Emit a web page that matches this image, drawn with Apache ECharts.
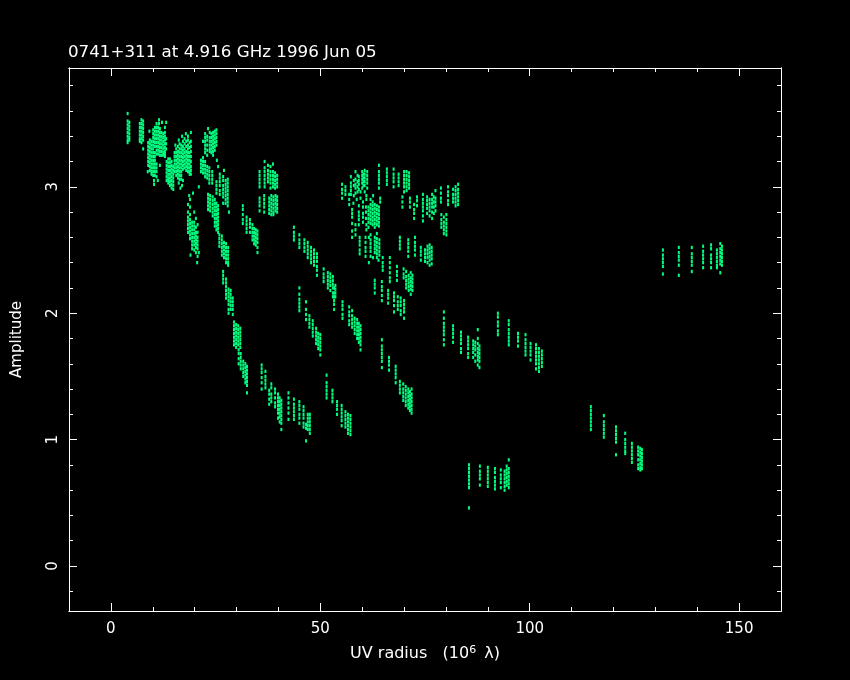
<!DOCTYPE html>
<html><head><meta charset="utf-8">
<style>html,body{margin:0;padding:0;background:#000}#c{width:850px;height:680px}</style>
<script src="https://cdn.jsdelivr.net/npm/echarts@6/dist/echarts.min.js"></script>
</head><body><div id="c"></div>
<script>
const titleText = '0741+311 at 4.916 GHz 1996 Jun 05';
const xMajorTicks = [0, 50, 100, 150];
const xMinorTicks = [-10, 10, 20, 30, 40, 60, 70, 80, 90, 110, 120, 130, 140, 160];
const yMajorTicks = [0, 1, 2, 3];
const yMinorTicks = [-0.2, 0.2, 0.4, 0.6, 0.8, 1.2, 1.4, 1.6, 1.8, 2.2, 2.4, 2.6, 2.8, 3.2, 3.4, 3.6, 3.8];

// each row: UV radius, then the amplitudes read along that vertical track
const topLeftTracks = [
[4.0,3.58,3.52,3.49,3.46,3.43,3.40,3.37,3.35],[4.4,3.51,3.48,3.45,3.42,3.39,3.37],
[6.9,3.50,3.47,3.44,3.41,3.38,3.36],[7.3,3.53,3.50,3.47,3.44,3.41,3.38,3.35],[7.7,3.52,3.49,3.46,3.43,3.40,3.37,3.30],
[8.9,3.35,3.32,3.29,3.26,3.23,3.20,3.17],[9.3,3.37,3.34,3.31,3.28,3.25,3.22,3.19,3.16,3.13],
[9.7,3.36,3.33,3.30,3.27,3.24,3.21,3.18,3.15,3.12,3.10],
[10.1,3.45,3.42,3.39,3.36,3.33,3.30,3.27,3.24,3.21,3.18,3.15,3.12,3.09],
[10.5,3.47,3.44,3.41,3.38,3.35,3.32,3.27,3.24,3.21,3.18,3.15,3.12,3.09],
[10.9,3.50,3.47,3.44,3.41,3.38,3.35,3.32,3.29,3.26,3.18,3.15,3.12,3.08],
[11.3,3.47,3.44,3.41,3.38,3.35,3.32,3.29,3.26],[11.7,3.46,3.43,3.40,3.37,3.34,3.31,3.28,3.25,3.17],
[12.1,3.43,3.40,3.37,3.34,3.31,3.28,3.25],[12.5,3.42,3.39,3.36,3.33,3.30,3.27,3.25],
[12.9,3.47,3.43,3.40,3.37,3.34,3.31,3.28,3.26,3.24],
[13.3,3.20,3.17,3.14,3.11,3.08,3.05],[13.7,3.22,3.19,3.16,3.13,3.10,3.07,3.05,3.03],
[14.1,3.22,3.19,3.16,3.13,3.10,3.07,3.04,3.01],[14.5,3.20,3.17,3.14,3.11,3.08,3.05,3.02,2.99],[14.9,3.16,3.13,3.10,3.07,3.04,3.01,2.98],
[15.2,3.27,3.24,3.21,3.18,3.15,3.12],[15.6,3.30,3.27,3.24,3.21,3.18,3.15,3.12,3.09],
[16.0,3.32,3.28,3.25,3.22,3.19,3.16,3.13,3.10,3.07],[16.4,3.34,3.30,3.27,3.24,3.21,3.18,3.15,3.12,3.09,3.06],
[16.8,3.33,3.30,3.27,3.24,3.21,3.18,3.15,3.12,3.09,3.06],[17.2,3.36,3.32,3.29,3.26,3.23,3.20,3.17,3.14,3.05],
[17.6,3.38,3.34,3.30,3.27,3.24,3.21,3.18,3.15],[18.0,3.36,3.32,3.28,3.25,3.22,3.19,3.16,3.13],
[18.4,3.40,3.37,3.33,3.30,3.27,3.24,3.21,3.18,3.15,3.12],[18.8,3.35,3.31,3.27,3.24,3.21,3.18,3.15,3.12,3.10],
[19.1,3.43,3.36,3.32,3.28,3.24,3.20,3.16,3.13,3.10],
[22.5,3.42,3.39,3.36,3.33,3.30,3.27],[23.0,3.40,3.37,3.33,3.29,3.25],[23.6,3.43,3.39,3.36,3.33,3.30,3.28],
[24.0,3.42,3.39,3.36,3.33,3.30,3.27],[24.4,3.43,3.40,3.37,3.34,3.31,3.28,3.25],[24.8,3.44,3.41,3.38,3.35,3.32,3.29],[25.2,3.45,3.42,3.39,3.36,3.33],
[21.5,3.21,3.18,3.15,3.12],[22.0,3.23,3.20,3.17,3.14,3.11],[22.5,3.20,3.17,3.14,3.11,3.08],[23.0,3.16,3.13,3.10,3.07],
[23.5,3.15,3.12,3.09,3.06,3.03],[24.2,3.12,3.09,3.06,3.03],
[25.2,3.04,3.01,2.98,2.95],[26.0,3.10,3.07,3.04,3.01,2.97,2.94],[26.8,3.08,3.05,3.01,2.98,2.95,2.92],
[27.4,3.05,3.02,2.99,2.96,2.93,2.90,2.87],[27.9,3.06,3.03,3.00,2.97,2.94,2.91,2.88,2.85],
[23.2,2.94,2.91,2.88,2.85,2.82],[23.7,2.93,2.90,2.87,2.84,2.81],[24.3,2.92,2.89,2.86,2.83,2.80,2.77],
[24.8,2.90,2.87,2.84,2.81,2.78,2.75,2.72,2.69],[25.2,2.87,2.84,2.81,2.78,2.75,2.72,2.69,2.66],[25.6,2.85,2.82,2.79,2.76,2.73,2.70,2.67,2.64],
[25.9,2.62,2.59,2.56,2.53],[26.5,2.61,2.58,2.55,2.52,2.49,2.46],[27.0,2.56,2.53,2.50,2.47,2.44],
[27.5,2.55,2.52,2.49,2.46,2.43,2.40],[28.0,2.52,2.49,2.46,2.43,2.40,2.38],
[18.4,2.86,2.80,2.76,2.73,2.70,2.67,2.64],[18.9,2.90,2.84,2.78,2.74,2.71,2.68,2.65,2.62,2.59],
[19.4,2.72,2.69,2.66,2.63,2.60,2.57,2.54,2.51],[19.9,2.80,2.72,2.69,2.66,2.63,2.60,2.57,2.54,2.50],
[20.3,2.75,2.68,2.64,2.61,2.58,2.55,2.52,2.48],[20.7,2.70,2.64,2.60,2.57,2.54,2.51,2.45]
];
const upperMiddleTracks = [
[35.5,3.12,3.09,3.06,3.03,3.00],[36.7,3.20,3.15,3.12,3.09,3.06,3.03,3.00],[37.5,3.17,3.13,3.10,3.07,3.04],
[38.1,3.16,3.12,3.09,3.06,3.03,2.99],[38.7,3.18,3.12,3.09,3.06,3.03,3.00],[39.2,3.11,3.08,3.05,3.02,2.99],[39.7,3.09,3.06,3.03,3.00],
[35.5,2.91,2.88,2.85,2.81],[36.6,2.93,2.90,2.87,2.84,2.80],[37.8,2.91,2.88,2.85,2.82,2.79],[38.3,2.93,2.90,2.87,2.84,2.81,2.78],
[38.8,2.92,2.89,2.86,2.83,2.80,2.78],[39.3,2.93,2.90,2.87,2.84,2.81],[39.7,2.92,2.89,2.86,2.83,2.80],
[31.5,2.85,2.82,2.78,2.74,2.71],[32.4,2.76,2.73,2.70,2.67,2.64],[33.2,2.74,2.71,2.68,2.64],[33.8,2.70,2.67,2.64,2.61,2.58],
[34.2,2.67,2.64,2.61,2.58,2.55],[34.6,2.66,2.63,2.60,2.57,2.54],[35.0,2.65,2.62,2.59,2.56,2.52,2.48],
[26.8,2.33,2.30,2.27,2.24],[27.5,2.27,2.24,2.21,2.18,2.15,2.12],[28.1,2.19,2.16,2.13,2.10,2.07,2.03,2.00],
[28.6,2.18,2.15,2.12,2.09,2.06,2.03],[29.1,2.12,2.09,2.06,2.03,1.99],[29.4,1.93,1.90,1.87,1.84,1.81,1.78,1.75],
[29.9,1.91,1.88,1.85,1.82,1.79,1.76,1.73],[30.4,1.90,1.87,1.84,1.81,1.78,1.75],[30.9,1.88,1.85,1.82,1.79,1.76,1.73],
[30.5,1.71,1.68,1.64,1.60],[31.0,1.68,1.65,1.62,1.59,1.56],[31.6,1.62,1.59,1.56,1.53,1.50],[32.1,1.60,1.57,1.54,1.51,1.48,1.45],[32.5,1.58,1.55,1.52,1.49,1.46,1.43,1.37],
[36.0,1.59,1.56,1.53,1.49,1.45,1.40],[36.9,1.54,1.50,1.47,1.44,1.41],[38.3,1.44,1.41,1.36,1.33,1.30],[39.2,1.40,1.37,1.33,1.29,1.26],
[37.8,1.39,1.36,1.32,1.28],[39.9,1.36,1.33,1.30,1.27,1.24,1.21,1.17],[40.3,1.33,1.30,1.27,1.24,1.21,1.18,1.14],
[40.7,1.31,1.28,1.25,1.22,1.19,1.16,1.13,1.08],
[42.4,1.37,1.33,1.29,1.25,1.21,1.16],[43.7,1.32,1.28,1.25,1.22,1.19,1.16],[45.0,1.30,1.27,1.24,1.20,1.17,1.13],
[46.0,1.26,1.23,1.20,1.17,1.13,1.10],[47.0,1.20,1.17,1.14,1.11,1.08],[47.5,1.20,1.17,1.14,1.11,1.08,1.05],[46.6,0.99,1.12,1.09],
[45.0,2.20,2.15,2.11,2.08,2.05,2.02],[46.6,2.09,2.03,1.99,1.95],[47.4,1.98,1.95,1.92,1.89],[48.2,1.94,1.91,1.88,1.85,1.82],
[49.0,1.88,1.85,1.82,1.79,1.76],[49.5,1.84,1.81,1.78,1.75,1.72],[50.0,1.83,1.80,1.77,1.74,1.71,1.67],
[51.5,1.51,1.45,1.42,1.39,1.36,1.33],[52.9,1.39,1.36,1.33,1.30],[54.0,1.30,1.27,1.24,1.20],[55.1,1.27,1.24,1.21,1.18,1.15,1.11],
[56.0,1.22,1.19,1.16,1.13,1.10],[56.6,1.20,1.17,1.14,1.11,1.08,1.05],[57.2,1.19,1.16,1.13,1.10,1.07,1.04]
];
const diagonalTracks = [
[43.7,2.68,2.64,2.61,2.58],[45.0,2.62,2.58,2.55,2.52],[46.2,2.58,2.55,2.52,2.49],[47.0,2.56,2.53,2.50,2.47,2.44],
[47.8,2.52,2.49,2.46,2.43,2.40],[48.5,2.50,2.47,2.44,2.41,2.38],[49.2,2.47,2.44,2.41,2.37,2.34,2.30],
[50.8,2.35,2.31,2.28,2.25],[51.8,2.32,2.29,2.26,2.23,2.20],[52.4,2.31,2.28,2.25,2.22,2.18],[53.0,2.29,2.26,2.23,2.20,2.16,2.13],
[53.6,2.22,2.19,2.16,2.13],[53.3,2.20,2.16,2.13,2.10,2.07,2.03],[55.3,2.09,2.06,2.03,1.99,1.96],[56.9,2.05,2.01,1.98,1.94,1.91],
[57.6,2.02,1.98,1.95,1.92,1.89],[58.2,1.96,1.93,1.90,1.87,1.84],[58.8,1.95,1.92,1.89,1.86,1.83,1.80],[59.2,1.92,1.89,1.86,1.83,1.80,1.77],
[59.6,1.90,1.87,1.84,1.81,1.78,1.75,1.71],
[64.7,1.79,1.74,1.71,1.68,1.65,1.62,1.57],[66.4,1.65,1.62,1.59,1.55],[68.0,1.58,1.55,1.52,1.49,1.45],
[69.0,1.46,1.43,1.40,1.37],[69.8,1.44,1.40,1.37,1.34,1.31],[70.4,1.42,1.39,1.36,1.33,1.30,1.27],
[71.0,1.40,1.37,1.34,1.31,1.28,1.25],[71.4,1.38,1.35,1.32,1.29,1.26,1.23],[71.8,1.40,1.36,1.33,1.30,1.27,1.24,1.21],
[79.5,2.01,1.96,1.92,1.89,1.86,1.83,1.79,1.75],[81.7,1.90,1.87,1.84,1.81,1.77],[83.6,1.85,1.82,1.79,1.76,1.72,1.69],
[85.3,1.81,1.78,1.75,1.72,1.68,1.65],[86.5,1.78,1.75,1.72,1.69,1.65],[87.0,1.77,1.74,1.71,1.67,1.62],
[87.6,1.87,1.80,1.76,1.72,1.69,1.66,1.63,1.59],[88.0,1.74,1.71,1.68,1.65,1.62,1.57],
[92.4,2.00,1.97,1.93,1.90,1.86,1.83],[95.0,1.94,1.91,1.87,1.84,1.81,1.78,1.75],[97.2,1.84,1.81,1.78,1.74],
[99.0,1.83,1.79,1.76,1.73,1.70,1.67],[100.2,1.76,1.73,1.70,1.67,1.63],[101.5,1.75,1.72,1.69,1.66,1.63,1.60,1.56],
[102.2,1.72,1.69,1.66,1.63,1.60,1.57,1.54],[102.9,1.70,1.67,1.64,1.61,1.58]
];
const bottomRightTracks = [
[85.5,0.80,0.77,0.74,0.71,0.68,0.65,0.62,0.46],[88.1,0.79,0.75,0.72,0.69,0.64],[90.0,0.78,0.75,0.72,0.69,0.66,0.63],
[91.7,0.77,0.74,0.70,0.67,0.64,0.61],[93.1,0.76,0.72,0.69,0.66,0.62],[94.0,0.75,0.72,0.69,0.66,0.63,0.60],
[94.5,0.79,0.76,0.73,0.70,0.67,0.64],[95.0,0.84,0.77,0.74,0.71,0.68,0.65,0.62],
[114.6,1.26,1.23,1.20,1.17,1.14,1.11,1.08],[117.7,1.19,1.14,1.11,1.08,1.05,1.02],[120.6,1.10,1.07,1.04,1.01,0.98,0.88],
[122.8,1.05,1.00,0.97,0.94,0.91,0.89],[124.4,0.97,0.94,0.91,0.88,0.85,0.82],[125.9,0.94,0.91,0.88,0.84,0.80,0.77],
[126.4,0.93,0.90,0.87,0.84,0.81,0.78,0.76],[126.8,0.92,0.89,0.86,0.83,0.80,0.77],
[131.8,2.50,2.46,2.43,2.40,2.37,2.31],[135.6,2.52,2.48,2.45,2.42,2.38,2.30],[138.7,2.52,2.47,2.44,2.41,2.38,2.33],
[141.4,2.53,2.49,2.46,2.43,2.40,2.36],[143.3,2.54,2.51,2.46,2.43,2.40,2.36],[144.7,2.50,2.47,2.44,2.41,2.38,2.36],
[145.5,2.55,2.51,2.48,2.45,2.42,2.39,2.32],[145.9,2.53,2.50,2.47,2.44,2.41,2.38]
];
const upperRightTracks = [
[55.2,3.02,2.98,2.95,2.91],[57.3,3.08,3.03,3.00,2.97,2.94],[58.4,3.12,3.06,3.02,2.99,2.95],[59.2,3.08,3.05,3.02,2.98],
[60.0,3.12,3.09,3.06,3.03,2.99],[60.6,3.13,3.10,3.07,3.04,3.01,2.96],[61.2,3.12,3.09,3.06,3.03,2.99],
[64.0,3.17,3.12,3.09,3.06,3.03,2.99],[65.9,3.14,3.11,3.08,3.05,3.02],[67.5,3.14,3.10,3.07,3.04,3.00],
[68.7,3.10,3.07,3.04,3.01],[70.0,3.12,3.09,3.06,3.03,3.00,2.96],[70.6,3.12,3.09,3.06,3.03,3.00,2.97],[71.2,3.11,3.08,3.05,3.02,2.99],
[69.6,2.92,2.88,2.84],[71.4,2.91,2.88,2.84],[72.4,2.86,2.82,2.79,2.75],[73.1,2.92,2.89,2.85],
[74.5,2.94,2.90,2.87,2.84,2.81,2.77,2.73],[75.5,2.92,2.89,2.86,2.83,2.79],[76.1,2.90,2.87,2.84,2.81,2.77],
[76.7,2.94,2.90,2.87,2.84,2.80,2.75],[77.5,2.97,2.91,2.88,2.85,2.81],
[78.9,2.78,2.74,2.71,2.68],[79.5,2.76,2.72,2.69,2.66,2.63],[80.1,2.78,2.74,2.71,2.68,2.65,2.62],
[78.8,2.99,2.95,2.91,2.88],[80.5,3.00,2.96,2.93,2.89,2.86],[81.7,2.98,2.94,2.91,2.88],[82.3,3.00,2.97,2.94,2.91,2.88,2.85],[82.9,3.02,2.98,2.95,2.92,2.89,2.86],
[56.9,2.94,2.90,2.86],[57.6,2.82,2.79,2.76,2.71,2.65,2.60],[59.2,2.85,2.80,2.77,2.74,2.70],[60.2,2.88,2.84,2.79,2.76,2.72],
[61.5,2.84,2.81,2.78,2.75,2.72,2.68],[62.0,2.90,2.86,2.83,2.80,2.77,2.74,2.71],[62.5,2.88,2.85,2.82,2.79,2.76,2.73,2.70],
[63.0,2.86,2.83,2.80,2.77,2.74,2.71,2.68],[63.5,2.85,2.82,2.79,2.76,2.73,2.70],[64.0,2.84,2.81,2.78,2.75,2.72,2.69],
[59.4,2.60,2.57,2.54,2.50,2.47],[60.8,2.60,2.56,2.52,2.49,2.45],[62.0,2.62,2.58,2.55,2.52,2.49,2.45],[63.0,2.60,2.57,2.54,2.51,2.48],
[63.5,2.63,2.59,2.56,2.53,2.50,2.47,2.44],[64.1,2.58,2.55,2.52,2.49,2.46],
[69.0,2.60,2.57,2.54,2.51],[71.0,2.58,2.55,2.52,2.49,2.45],[72.6,2.60,2.56,2.53,2.50,2.46],[74.0,2.52,2.49,2.46,2.42],
[75.0,2.50,2.47,2.44,2.41],[75.6,2.53,2.50,2.47,2.44,2.40],[76.1,2.54,2.51,2.48,2.45,2.42,2.38],[76.6,2.52,2.49,2.46,2.43,2.39],
[64.9,2.44,2.40,2.37,2.34],[66.6,2.44,2.40,2.36,2.32,2.28,2.25],[63.0,2.26,2.23,2.20,2.16],[64.7,2.25,2.21,2.18,2.14,2.10],
[66.2,2.18,2.15,2.12,2.08],[67.6,2.16,2.13,2.10,2.06,2.01],[68.5,2.13,2.09,2.06,2.03],[69.2,2.12,2.09,2.06,2.02,1.99],[70.0,2.10,2.07,2.04,2.01,1.96],
[68.3,2.37,2.33,2.30,2.26],[69.9,2.35,2.31,2.28],[70.5,2.33,2.29,2.26,2.23,2.20],[71.1,2.30,2.27,2.24,2.21,2.18],[71.6,2.32,2.28,2.25,2.22,2.19,2.15],[72.0,2.30,2.27,2.24,2.21,2.18],
[56.0,3.00,2.97,2.94],[58.9,3.09,3.04,3.00,2.96],[60.3,3.10,3.07,3.04,3.01],[60.9,2.84,2.80,2.75],[58.4,2.70,2.66,2.62],[61.0,2.70,2.66],[77.1,2.92,2.88,2.84,2.79]
];
// isolated dots around the dense groups
const speckleTracks = [
[11.5,3.53,3.50],[12.2,3.51],[9.2,3.44],[13.2,3.51,3.38,3.34,3.30],[8.8,3.12],[10.3,3.02,3.05],[11.2,3.05],
[15.4,3.33],[16.2,3.37,3.03],[17.0,3.40,3.01],[17.9,3.42],[16.6,2.99],
[22.0,3.36],[23.2,3.46],[25.3,3.21],[25.6,3.16],[27.0,3.13],[21.0,3.00],[26.8,2.87],[28.2,2.80],
[19.0,2.46],[18.7,2.93],[19.6,2.95],[20.6,2.40],[21.0,2.48],
[58.0,3.05,3.01,2.93],[59.6,2.96,2.91],[61.0,2.93,2.90],[57.9,2.87],[58.7,2.90],[62.6,2.93],[64.3,2.91,2.88],[61.6,2.60,2.40],[63.9,2.42],[62.6,2.44]
];
const allTracks = [topLeftTracks, upperMiddleTracks, diagonalTracks, bottomRightTracks, upperRightTracks, speckleTracks];
const visPoints = allTracks.flat().flatMap(t => t.slice(1).map(a => [t[0], a]));

const xRange = {min: -10, max: 160};
const yRange = {min: -0.356, max: 3.94};
const white = '#ffffff';
const font = '"DejaVu Sans ExtraLight","DejaVu Sans"';
function xAx(pos, ticks, len, labels) {
  return {type:'value', position:pos, ...xRange, splitLine:{show:false},
    axisLine:{show:true, onZero:false, lineStyle:{color:white,width:1}},
    axisTick:{show:true, inside:true, length:len, customValues:ticks, lineStyle:{color:white,width:1}},
    axisLabel: labels ? {show:true, color:white, fontFamily:font, fontSize:15, margin:11, customValues:ticks} : {show:false},
    ...(labels ? {name:'UV radius   (10{s|6} λ)', nameLocation:'middle', nameGap:34,
      nameTextStyle:{color:white, fontFamily:font, fontSize:16, verticalAlign:'top', rich:{s:{fontSize:11, color:white, fontFamily:font, verticalAlign:'top', padding:[0,3,7,0]}}}} : {})};
}
function yAx(pos, ticks, len, labels) {
  return {type:'value', position:pos, ...yRange, splitLine:{show:false},
    axisLine:{show:true, onZero:false, lineStyle:{color:white,width:1}},
    axisTick:{show:true, inside:true, length:len, customValues:ticks, lineStyle:{color:white,width:1}},
    axisLabel: labels ? {show:true, color:white, fontFamily:font, fontSize:15, rotate:90, margin:8, customValues:ticks} : {show:false},
    ...(labels ? {name:'Amplitude', nameLocation:'middle', nameGap:44,
      nameTextStyle:{color:white, fontFamily:font, fontSize:15}} : {})};
}
const chart = echarts.init(document.getElementById('c'), null, {renderer:'canvas'});
chart.setOption({
  animation:false, backgroundColor:'#000000',
  title:{text:titleText, left:68, top:44, padding:0, textStyle:{color:white, fontFamily:font, fontSize:16.7, fontWeight:'normal'}},
  grid:{left:69, top:68, width:712, height:543, containLabel:false, outerBoundsMode:'none'},
  xAxis:[xAx('bottom',xMajorTicks,8,true), xAx('bottom',xMinorTicks,4,false), xAx('top',xMajorTicks,8,false), xAx('top',xMinorTicks,4,false)],
  yAxis:[yAx('left',yMajorTicks,8,true), yAx('left',yMinorTicks,4,false), yAx('right',yMajorTicks,8,false), yAx('right',yMinorTicks,4,false)],
  series:[{type:'scatter', data:visPoints, symbol:'rect', symbolSize:[2,3.3], xAxisIndex:0, yAxisIndex:0,
    itemStyle:{color:'#00FF80', opacity:1}, silent:true, large:false}]
});
</script></body></html>
